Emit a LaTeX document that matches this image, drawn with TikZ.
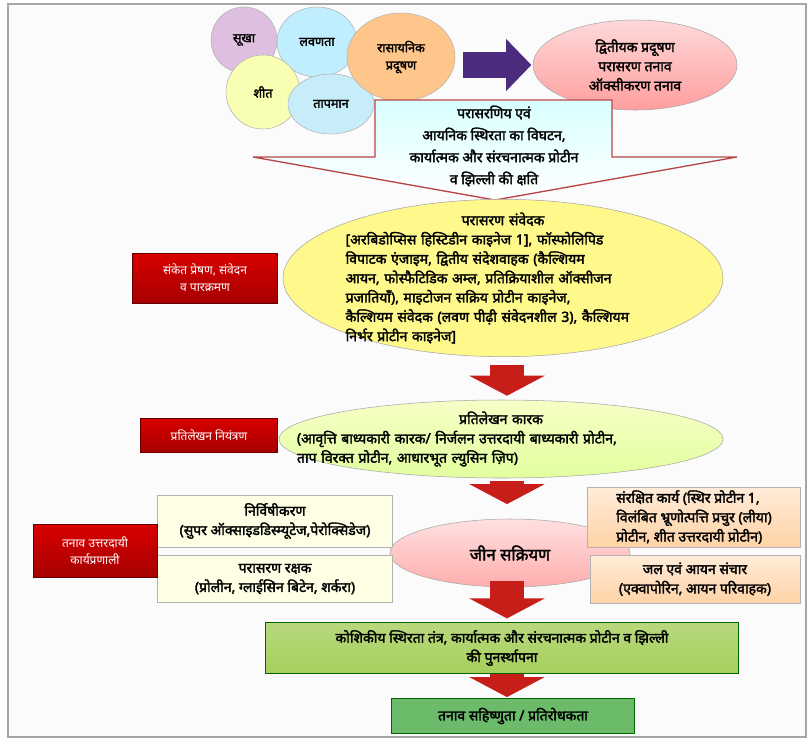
\documentclass[tikz,border=0pt]{standalone}
\usepackage{fontspec}
\setmainfont{Noto Sans}[Script=Devanagari, BoldFont=Noto Sans, BoldFeatures={FakeBold=2.2}]
\usetikzlibrary{arrows.meta, positioning, shapes.geometric}

\definecolor{arrowred}{HTML}{C81E1A}
\definecolor{plum}{HTML}{4B2C7E}
\definecolor{restgreen}{HTML}{A5CF5C}
\definecolor{tolgreen}{HTML}{6CBB6A}

\begin{document}
\begin{tikzpicture}[x=0.75pt, y=-0.75pt,
                font=\bfseries\fontsize{10.5}{14.5}\selectfont,
                bubble/.style={ellipse, draw=gray!60, inner sep=0pt, font=\bfseries\fontsize{9.5}{13}\selectfont},
                oval/.style={ellipse, draw=gray!70, inner sep=0pt},
                redtag/.style={draw=red!40!black, top color=red!85!black, bottom color=red!65!black,
                               text=white, font=\fontsize{9}{13}\selectfont, align=center, inner sep=2pt},
                limebox/.style={draw=gray!60, fill=lime!15!yellow!10, align=center, inner sep=2pt},
                peachbox/.style={draw=gray!60, top color=orange!15, bottom color=orange!35, align=center, inner sep=2pt},
                redarrow/.style={draw=arrowred, line width=26pt, -{Triangle[width=56pt, length=15pt]}}]

    % page and frame
    \useasboundingbox (0,0) rectangle (810,740);
    \draw[gray!70, line width=1pt, fill=gray!3] (8,4) rectangle (806,737);

    % stress bubbles
    \node[bubble, fill=violet!25, minimum width=49.5pt, minimum height=49.5pt] (drought) at (244,40) {सूखा};
    \node[bubble, fill=blue!25!cyan!25, minimum width=60pt, minimum height=52.5pt] (salinity) at (317,42) {लवणता};
    \node[bubble, fill=lime!30!yellow!30, minimum width=55.5pt, minimum height=55.5pt] (cold) at (263,92) {शीत};
    \node[bubble, fill=cyan!22, minimum width=64.5pt, minimum height=45pt] (heat) at (331,104) {तापमान};
    \node[bubble, fill=orange!45, align=center, minimum width=81pt, minimum height=66pt] (chemical) at (401,57)
        {रासायनिक\\प्रदूषण};

    % secondary stress
    \node[oval, top color=red!15, bottom color=red!38, align=center, minimum width=153pt, minimum height=67.5pt]
        (secondary) at (635,65) {द्वितीयक प्रदूषण\\परासरण तनाव\\ऑक्सीकरण तनाव};
    \draw[plum, line width=19pt, -{Triangle[width=38pt, length=19pt]}, shorten <=6pt, shorten >=1pt]
        (chemical.east |- secondary.west) -- (secondary.west);

    % damage callout
    \draw[draw=red!45!gray, line width=1pt, top color=cyan!15, bottom color=white]
        (375,100) -- (612,100) -- (612,157) -- (737,157) -- (495,200) -- (253,157) -- (375,157) -- cycle;
    \node[align=center, font=\bfseries\fontsize{10.5}{16.5}\selectfont] (damage) at (494,146)
        {परासरणिय एवं\\आयनिक स्थिरता का विघटन,\\कार्यात्मक और संरचनात्मक प्रोटीन\\व झिल्ली की क्षति};

    % osmotic sensors
    \node[oval, fill=yellow!45, minimum width=330pt, minimum height=118pt] (sensor) at (503,278) {};
    \node[align=left, text width=236pt] (sensortext) at (sensor.center)
        {\centerline{परासरण संवेदक}
         [अरबिडोप्सिस हिस्टिडीन काइनेज 1], फॉस्फोलिपिड\\
         विपाटक एंजाइम, द्वितीय संदेशवाहक (कैल्शियम\\
         आयन, फोस्फैटिडिक अम्ल, प्रतिक्रियाशील ऑक्सीजन\\
         प्रजातियाँ), माइटोजन सक्रिय प्रोटीन काइनेज,\\
         कैल्शियम संवेदक (लवण पीढ़ी संवेदनशील 3), कैल्शियम\\
         निर्भर प्रोटीन काइनेज]};
    \node[redtag, minimum width=109pt, minimum height=37.5pt] (signal) at (205,278)
        {संकेत प्रेषण, संवेदन\\व पारक्रमण};

    % transcription factors
    \node[oval, top color=green!15!yellow!22, bottom color=green!30!yellow!38, minimum width=333pt, minimum height=58.5pt]
        (tfactor) at (501,439) {};
    \node[align=left, text width=306pt] (tfactortext) at (tfactor.center)
        {\centerline{प्रतिलेखन कारक}
         (आवृत्ति बाध्यकारी कारक/ निर्जलन उत्तरदायी बाध्यकारी प्रोटीन,\\
         ताप विरक्त प्रोटीन, आधारभूत ल्युसिन ज़िप)};
    \node[redtag, minimum width=103pt, minimum height=25.5pt] (control) at (209,435) {प्रतिलेखन नियंत्रण};

    % gene activation and responses
    \node[oval, top color=red!12, bottom color=red!32, minimum width=180pt, minimum height=51pt,
          font=\bfseries\fontsize{12.5}{14}\selectfont] (gene) at (510,553) {जीन सक्रियण};
    \node[limebox, minimum width=176pt, minimum height=39pt] (detox) at (275,521)
        {निर्विषीकरण\\(सुपर ऑक्साइडडिस्म्यूटेज,पेरोक्सिडेज)};
    \node[limebox, minimum width=176pt, minimum height=35pt] (osmoprot) at (275,579)
        {परासरण रक्षक\\(प्रोलीन, ग्लाईसिन बिटेन, शर्करा)};
    \node[redtag, minimum width=93pt, minimum height=40pt] (mechanism) at (95,551)
        {तनाव उत्तरदायी\\कार्यप्रणाली};
    \node[peachbox, align=left, minimum width=160pt, minimum height=45pt] (protect) at (694,517)
        {संरक्षित कार्य (स्थिर प्रोटीन 1,\\विलंबित भ्रूणोत्पत्ति प्रचुर (लीया)\\प्रोटीन, शीत उत्तरदायी प्रोटीन)};
    \node[peachbox, minimum width=157.5pt, minimum height=36pt] (transport) at (695,579)
        {जल एवं आयन संचार\\(एक्वापोरिन, आयन परिवाहक)};

    % restoration and tolerance
    \node[draw=green!40!black, top color=restgreen!80, bottom color=restgreen, align=center,
          minimum width=355pt, minimum height=38pt] (restore) at (502,648)
        {कोशिकीय स्थिरता तंत्र, कार्यात्मक और संरचनात्मक प्रोटीन व झिल्ली\\की पुनर्स्थापना};
    \node[draw=green!40!black, fill=tolgreen, minimum width=182pt, minimum height=26pt]
        (tolerance) at (513,716) {तनाव सहिष्णुता / प्रतिरोधकता};

    % flow arrows
    \draw[redarrow, shorten <=6pt, shorten >=3pt] (sensor.south -| 507,0) -- (tfactor.north -| 507,0);
    \draw[redarrow, shorten <=2pt, shorten >=11pt] (tfactor.south -| 507,0) -- (gene.north -| 507,0);
    \draw[redarrow, shorten <=-5pt, shorten >=3pt] (gene.south -| 507,0) -- (restore.north -| 507,0);
    \draw[redarrow, shorten <=0pt, shorten >=1pt] (restore.south -| 507,0) -- (tolerance.north -| 507,0);
\end{tikzpicture}
\end{document}
